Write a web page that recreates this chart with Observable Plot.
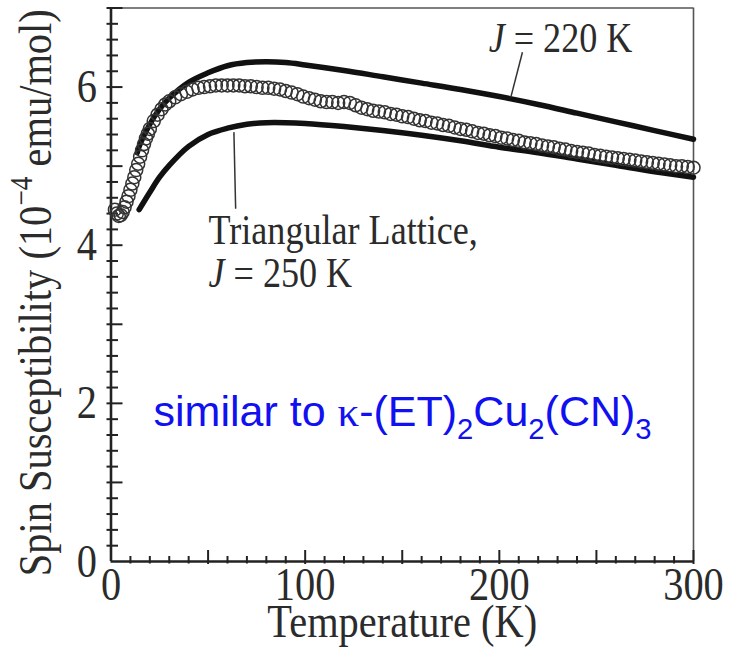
<!DOCTYPE html>
<html><head><meta charset="utf-8">
<script src="https://cdn.jsdelivr.net/npm/d3@7"></script>
<script src="https://cdn.jsdelivr.net/npm/@observablehq/plot@0.6"></script>
<style>body{margin:0;background:#fff} svg{display:block}</style>
</head><body><div id="chart"></div>
<script>
// measured susceptibility (open circles)
const dataT = [2,3,4,5,6,7,8,9,10,11,12,13,14,15,16,17,18,19,20,22,24,26,28,30,33,36,39,42,45,48,51,54,57,60,63,66,69,72,75,78,81,84,87,90,93,96,99,102,105,108,111,114,117,120,123,126,129,132,135,138,141,144,147,150,153,156,159,162,165,168,171,174,177,180,183,186,189,192,195,198,201,204,207,210,213,216,219,222,225,228,231,234,237,240,243,246,249,252,255,258,261,264,267,270,273,276,279,282,285,288,291,294,297,300];
const dataChi = [4.45,4.40,4.37,4.38,4.42,4.48,4.55,4.62,4.70,4.78,4.86,4.95,5.03,5.12,5.20,5.28,5.35,5.41,5.47,5.57,5.65,5.72,5.78,5.82,5.87,5.91,5.94,5.97,5.99,6.00,6.01,6.02,6.02,6.02,6.02,6.02,6.01,6.01,6.00,5.99,5.99,5.98,5.97,5.95,5.93,5.91,5.88,5.86,5.84,5.82,5.81,5.81,5.80,5.81,5.80,5.77,5.74,5.72,5.70,5.69,5.68,5.66,5.65,5.63,5.62,5.60,5.58,5.57,5.55,5.54,5.52,5.51,5.49,5.47,5.46,5.44,5.42,5.41,5.39,5.38,5.36,5.35,5.33,5.32,5.30,5.29,5.28,5.26,5.25,5.24,5.22,5.21,5.19,5.18,5.17,5.16,5.14,5.13,5.12,5.11,5.10,5.09,5.08,5.07,5.06,5.05,5.04,5.03,5.02,5.01,5.00,5.00,4.99,4.98];
// triangular-lattice fit, J = 220 K
const fit220T = [13.5,15,20,25,30,40,50,60,70,80,90,100,120,140,160,180,200,220,240,260,280,300];
const fit220Chi = [5.17,5.28,5.53,5.72,5.86,6.06,6.18,6.27,6.31,6.32,6.31,6.28,6.21,6.13,6.05,5.97,5.88,5.78,5.67,5.56,5.45,5.34];
// triangular-lattice fit, J = 250 K
const fit250T = [14.5,20,25,30,40,50,60,70,80,90,100,120,140,160,180,200,220,240,260,280,300];
const fit250Chi = [4.45,4.67,4.86,5.01,5.25,5.40,5.48,5.53,5.55,5.55,5.54,5.50,5.45,5.39,5.32,5.24,5.17,5.09,5.01,4.93,4.86];
// axes
const xTickLabels = [0,100,200,300];
const yTickLabels = [0,2,4,6];
const xMajorTicks = [50,100,150,200,250,300];
const xMinorTicks = [10,20,30,40,60,70,80,90,110,120,130,140,160,170,180,190,210,220,230,240,260,270,280,290];
const yMajorTicks = [1,2,3,4,5,6,7];
const yMinorTicks = [0.2,0.4,0.6,0.8,1.2,1.4,1.6,1.8,2.2,2.4,2.6,2.8,3.2,3.4,3.6,3.8,4.2,4.4,4.6,4.8,5.2,5.4,5.6,5.8,6.2,6.4,6.6,6.8];
const xTitle = "Temperature (K)";
const yTitle = "Spin Susceptibility (10-4 emu/mol)";
// annotations
const annoText = ["J = 220 K", "Triangular Lattice,", "J = 250 K"];
const annoT = [194.5, 50.2, 50.2];
const annoChi = [6.62, 4.19, 3.64];
const noteText = ["similar to κ-(ET)2Cu2(CN)3"];
const noteT = [21.9];
const noteChi = [1.89];
// leader lines
const leadT1 = [205.9, 63.3], leadChi1 = [5.87, 5.43];
const leadT2 = [211.9, 64.2], leadChi2 = [6.44, 4.46];

const W = 731, H = 656, mL = 110.5, mR = 38, mT = 7.5, mB = 95;
const FW = W - mL - mR, FH = H - mT - mB;
const serif = "'Liberation Serif', 'Times New Roman', serif";
const ink = "#2b2b2b";

const pts = dataT.map((t, i) => ({t, v: dataChi[i]}));
const l220 = fit220T.map((t, i) => ({t, v: fit220Chi[i]}));
const l250 = fit250T.map((t, i) => ({t, v: fit250Chi[i]}));
const anno = annoText.map((s, i) => ({s, t: annoT[i], v: annoChi[i]}));
const note = noteText.map((s, i) => ({s, t: noteT[i], v: noteChi[i]}));
const leads = leadT1.map((t, i) => ({t1: t, v1: leadChi1[i], t2: leadT2[i], v2: leadChi2[i]}));

const svg = Plot.plot({
  width: W, height: H,
  marginLeft: mL, marginRight: mR, marginTop: mT, marginBottom: mB,
  x: {domain: [0, 300], axis: null},
  y: {domain: [0, 7], axis: null},
  style: {fontFamily: serif, color: ink, background: "#fff"},
  marks: [
    // frame top/right
    Plot.ruleY([7], {stroke: "#555", strokeWidth: 1.6}),
    Plot.ruleX([300], {stroke: "#555", strokeWidth: 1.6}),
    // ticks
    Plot.ruleX(xMinorTicks, {stroke: "#222", strokeWidth: 2, insetTop: FH - 5, insetBottom: -2.5}),
    Plot.ruleX(xMajorTicks, {stroke: "#222", strokeWidth: 2, insetTop: FH - 11, insetBottom: -3}),
    Plot.ruleY(yMinorTicks, {stroke: "#222", strokeWidth: 2, insetLeft: -4, insetRight: FW - 7.5}),
    Plot.ruleY(yMajorTicks, {stroke: "#222", strokeWidth: 2, insetLeft: -4, insetRight: FW - 12}),
    // axis lines
    Plot.ruleX([0], {stroke: "#222", strokeWidth: 2.6}),
    Plot.ruleY([0], {stroke: "#222", strokeWidth: 2.6}),
    // tick labels
    Plot.axisX(xTickLabels, {tickSize: 0, tickPadding: 5, tickFormat: d => String(d), fontSize: 47, fontFamily: serif, fill: ink, label: null}),
    Plot.axisY(yTickLabels, {tickSize: 0, tickPadding: 14, tickFormat: d => String(d), fontSize: 47, fontFamily: serif, fill: ink, label: null}),
    // titles
    Plot.text([xTitle], {frameAnchor: "bottom", textAnchor: "middle", dy: 60, lineAnchor: "middle", fontSize: 47, fontFamily: serif, fill: ink}),
    Plot.text([yTitle], {frameAnchor: "left", textAnchor: "middle", rotate: -90, dx: -75, dy: 8, lineAnchor: "middle", fontSize: 47, fontFamily: serif, fill: ink}),
    // fits
    Plot.line(l220, {x: "t", y: "v", stroke: "#111", strokeWidth: 5.5, curve: "catmull-rom"}),
    Plot.line(l250, {x: "t", y: "v", stroke: "#111", strokeWidth: 5.5, curve: "catmull-rom"}),
    // data
    Plot.dot(pts, {x: "t", y: "v", r: 6.5, stroke: "#333", strokeWidth: 1.5, fill: "none"}),
    // leaders
    Plot.link(leads, {x1: "t1", y1: "v1", x2: "t2", y2: "v2", stroke: "#333", strokeWidth: 1.5}),
    // annotations
    Plot.text(anno, {x: "t", y: "v", text: "s", textAnchor: "start", lineAnchor: "middle", fontSize: 42, fontFamily: serif, fill: ink}),
    Plot.text(note, {x: "t", y: "v", text: "s", textAnchor: "start", lineAnchor: "middle", fontSize: 43, fontFamily: "'Liberation Sans', Arial, sans-serif", fill: "#1010f0", className: "sans"})
  ]
});

// rich text (italic, super/subscripts)
const NS = "http://www.w3.org/2000/svg";
function rich(el, segs, size) {
  while (el.firstChild) el.removeChild(el.firstChild);
  let shift = 0;
  for (const s of segs) {
    const ts = document.createElementNS(NS, "tspan");
    ts.textContent = s.t;
    const target = s.sub ? 0.3 * size : s.sup ? -0.4 * size : 0;
    if (target !== shift) { ts.setAttribute("dy", target - shift); shift = target; }
    if (s.sub || s.sup) ts.setAttribute("font-size", 0.68 * size);
    if (s.it) ts.setAttribute("font-style", "italic");
    if (s.fam) ts.setAttribute("font-family", s.fam);
    el.appendChild(ts);
  }
}
const richMap = {
  "J = 220 K": [[{t: "J", it: true}, {t: " = 220 K"}], 42],
  "J = 250 K": [[{t: "J", it: true}, {t: " = 250 K"}], 42],
  "Spin Susceptibility (10-4 emu/mol)": [[{t: "Spin Susceptibility (10"}, {t: "\u22124", sup: true}, {t: " emu/mol)"}], 47],
  "similar to κ-(ET)2Cu2(CN)3": [[{t: "similar to "}, {t: "κ", fam: serif}, {t: "-(ET)"}, {t: "2", sub: true}, {t: "Cu"}, {t: "2", sub: true}, {t: "(CN)"}, {t: "3", sub: true}], 43]
};
for (const t of svg.querySelectorAll("text")) {
  const k = t.textContent;
  if (richMap[k]) rich(t, richMap[k][0], richMap[k][1]);
}
// horizontal condensation of the serif lettering
for (const t of svg.querySelectorAll("text")) {
  if (t.closest(".sans")) continue;
  let tr = t.getAttribute("transform") || "";
  const x = t.getAttribute("x");
  if (x != null && !isNaN(+x)) { tr = `translate(${x},0) ` + tr; t.removeAttribute("x"); }
  t.setAttribute("transform", tr + " scale(0.86,1)");
}
document.getElementById("chart").appendChild(svg);
</script>
</body></html>
